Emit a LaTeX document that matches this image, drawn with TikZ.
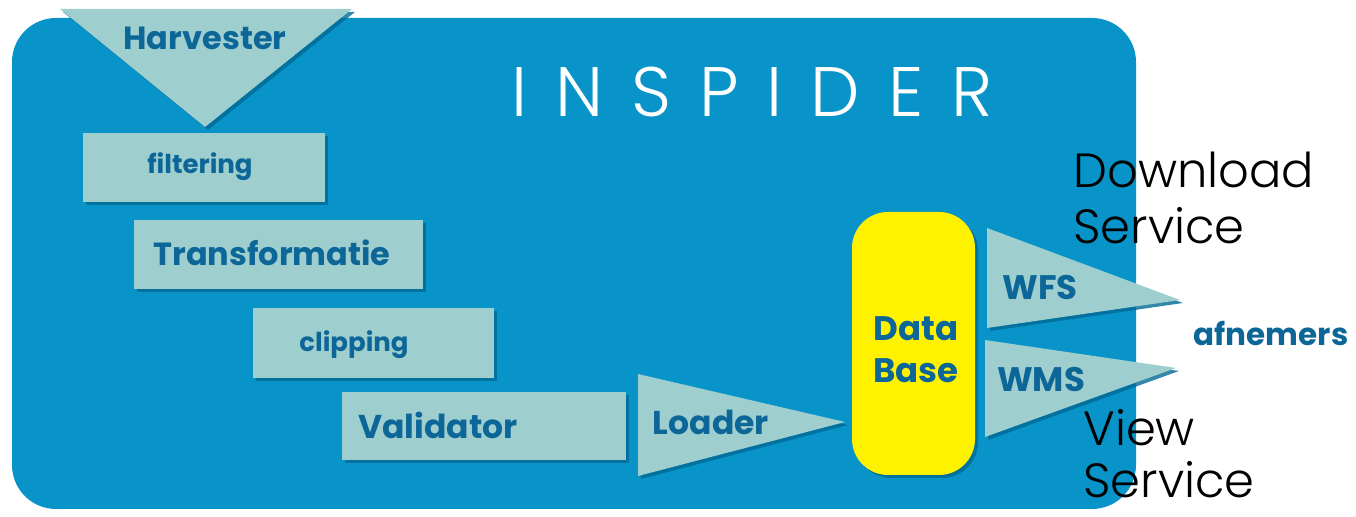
\documentclass[tikz,border=0pt]{standalone}
\usepackage{fontspec}
\setmainfont{Poppins}
\newfontfamily\handfont{Poppins Light}
\usetikzlibrary{shadows}
\definecolor{bgblue}{RGB}{8,148,200}
\definecolor{tealc}{RGB}{158,206,206}
\definecolor{txtblue}{RGB}{12,103,152}
\definecolor{shadowblue}{RGB}{0,105,150}
\tikzset{
  tealshape/.style={fill=tealc, drop shadow={shadow xshift=1.5pt, shadow yshift=-1.5pt, fill=shadowblue, opacity=0.8}},
  lbl/.style={text=txtblue, font=\bfseries\fontsize{#1}{#1}\selectfont, inner sep=0pt},
  hand/.style={text=black, font=\handfont\fontsize{24}{28}\selectfont, inner sep=0pt, anchor=west, align=left}
}
\begin{document}
\begin{tikzpicture}[x=0.5pt,y=-0.5pt]
\useasboundingbox (0,0) rectangle (1356,517);
% background panel
\fill[bgblue, rounded corners=22pt] (12,18) rectangle (1136,509);
% Harvester
\path[tealshape] (60,9) -- (352,9) -- (205,127) -- cycle;
\node[lbl=16] (harv) at (205,38) {Harvester};
% boxes
\path[tealshape] (83,133) rectangle (325,202);
\node[lbl=13] (filt) at (200,167) {filtering};
\path[tealshape] (134,220) rectangle (423,289);
\node[lbl=16] (trans) at (272,253) {Transformatie};
\path[tealshape] (253,308) rectangle (494,378);
\node[lbl=13] (clip) at (354,345) {clipping};
\path[tealshape] (342,392) rectangle (626,460);
\node[lbl=16.5] (valid) at (438,425) {Validator};
% Loader
\path[tealshape] (638,374) -- (845,422) -- (638,476) -- cycle;
\node[lbl=16.5] (load) at (711,422) {Loader};
% Database
\fill[yellow, rounded corners=18pt, drop shadow={shadow xshift=1.5pt, shadow yshift=-1.5pt, fill=shadowblue, opacity=0.8}] (852,212) rectangle (975,475);
\node[lbl=17, align=center] (db) at (916,350) {Data\\[4pt]Base};
% WFS / WMS
\path[tealshape] (987,228) -- (1180,300) -- (987,328) -- cycle;
\node[lbl=17] (wfs) at (1040,288) {WFS};
\path[tealshape] (985,340) -- (1176,368) -- (985,437) -- cycle;
\node[lbl=17] (wms) at (1041,380) {WMS};
\node[lbl=15.5] (afn) at (1271,333) {afnemers};
% INSPIDER
\node[text=white, inner sep=0pt, font=\handfont\fontsize{35}{35}\selectfont\addfontfeature{LetterSpace=40}] (insp) at (752,92) {INSPIDER};
% handwritten labels
\node[hand] (dl) at (1073,198) {Download\\Service};
\node[hand, font=\handfont\fontsize{24}{26}\selectfont] (vs) at (1083,454) {View\\Service};
\end{tikzpicture}
\end{document}
